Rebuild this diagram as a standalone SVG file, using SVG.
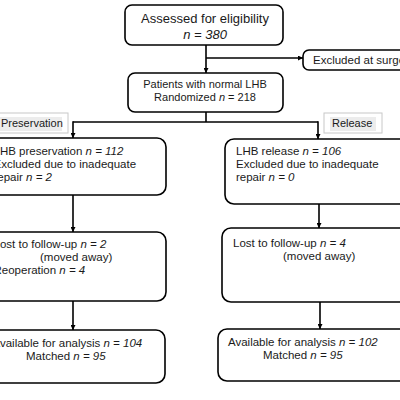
<svg xmlns="http://www.w3.org/2000/svg" width="400" height="400" viewBox="0 0 400 400">
<style>
.box{fill:#fff;stroke:#000;stroke-width:1.6}
.con{fill:none;stroke:#000;stroke-width:1.6}
text{font-family:"Liberation Sans",Arial,sans-serif;fill:#1a1a1a}
.t13{font-size:13px}
.t11{font-size:11.5px}
.t11s{font-size:11px}
.i{font-style:italic}
.lblo{fill:#fff;stroke:#c8c8c8;stroke-width:1}
.lbli{fill:#ececec}
</style>
<defs>
<marker id="ah" viewBox="0 0 10 10" refX="10" refY="5" markerWidth="5" markerHeight="5" orient="auto" markerUnits="userSpaceOnUse"><path d="M0,0 L10,5 L0,10 z" fill="#000"/></marker>
</defs>
<rect width="400" height="400" fill="#fff"/>
<g id="connectors">
<path class="con" d="M206,45 V73" marker-end="url(#ah)"/>
<path class="con" d="M206,58 H303" marker-end="url(#ah)"/>
<path class="con" d="M206,112 V122"/>
<path class="con" d="M73,122 H318"/>
<path class="con" d="M73,121.2 V138" marker-end="url(#ah)"/>
<path class="con" d="M318,121.2 V139" marker-end="url(#ah)"/>
<path class="con" d="M73,195 V232" marker-end="url(#ah)"/>
<path class="con" d="M319,204 V228" marker-end="url(#ah)"/>
<path class="con" d="M73,301 V330" marker-end="url(#ah)"/>
<path class="con" d="M320,302 V329" marker-end="url(#ah)"/>
</g>
<g id="assessed">
<rect class="box" x="125" y="5" width="158" height="40" rx="7"/>
<text class="t13" x="205" y="23" text-anchor="middle">Assessed for eligibility</text>
<text class="t13 i" x="205" y="39" text-anchor="middle">n = 380</text>
</g>
<g id="excluded">
<rect class="box" x="303" y="50" width="120" height="20" rx="6"/>
<text class="t11" x="313" y="64">Excluded at surgery</text>
</g>
<g id="randomized">
<rect class="box" x="128" y="73" width="155" height="39" rx="7"/>
<text class="t11s" x="205" y="88" text-anchor="middle">Patients with normal LHB</text>
<text class="t11s" x="205" y="101" text-anchor="middle">Randomized <tspan class="i">n</tspan> = 218</text>
</g>
<g id="label-preservation">
<rect class="lblo" x="-10" y="113" width="78" height="20"/>
<rect class="lbli" x="-10" y="117" width="72" height="14"/>
<text class="t11s" x="1" y="127">Preservation</text>
</g>
<g id="label-release">
<rect class="lblo" x="324" y="113" width="58" height="20"/>
<rect class="lbli" x="330" y="117" width="46" height="14"/>
<text class="t11s" x="332" y="127">Release</text>
</g>
<g id="preservation">
<rect class="box" x="-30" y="138" width="196" height="57" rx="9"/>
<text class="t11" x="-6.5" y="155">LHB preservation <tspan class="i">n = 112</tspan></text>
<text class="t11" x="-6.5" y="168">Excluded due to inadequate</text>
<text class="t11" x="-6.5" y="181">repair <tspan class="i">n = 2</tspan></text>
</g>
<g id="release">
<rect class="box" x="225" y="139" width="200" height="65" rx="9"/>
<text class="t11" x="236" y="155">LHB release <tspan class="i">n = 106</tspan></text>
<text class="t11" x="236" y="168">Excluded due to inadequate</text>
<text class="t11" x="236" y="181">repair <tspan class="i">n = 0</tspan></text>
</g>
<g id="lost-left">
<rect class="box" x="-30" y="232" width="196" height="69" rx="9"/>
<text class="t11" x="-6.5" y="248">Lost to follow-up <tspan class="i">n = 2</tspan></text>
<text class="t11" x="40" y="261">(moved away)</text>
<text class="t11" x="-6.5" y="274">Reoperation <tspan class="i">n = 4</tspan></text>
</g>
<g id="lost-right">
<rect class="box" x="222" y="228" width="200" height="74" rx="9"/>
<text class="t11" x="233" y="247">Lost to follow-up <tspan class="i">n = 4</tspan></text>
<text class="t11" x="283" y="260">(moved away)</text>
</g>
<g id="available-left">
<rect class="box" x="-30" y="330" width="195" height="53" rx="9"/>
<text class="t11" x="-7.5" y="347">Available for analysis <tspan class="i">n = 104</tspan></text>
<text class="t11" x="26" y="360">Matched <tspan class="i">n = 95</tspan></text>
</g>
<g id="available-right">
<rect class="box" x="218" y="329" width="204" height="52" rx="9"/>
<text class="t11" x="228" y="346">Available for analysis <tspan class="i">n = 102</tspan></text>
<text class="t11" x="263" y="359">Matched <tspan class="i">n = 95</tspan></text>
</g>
</svg>
